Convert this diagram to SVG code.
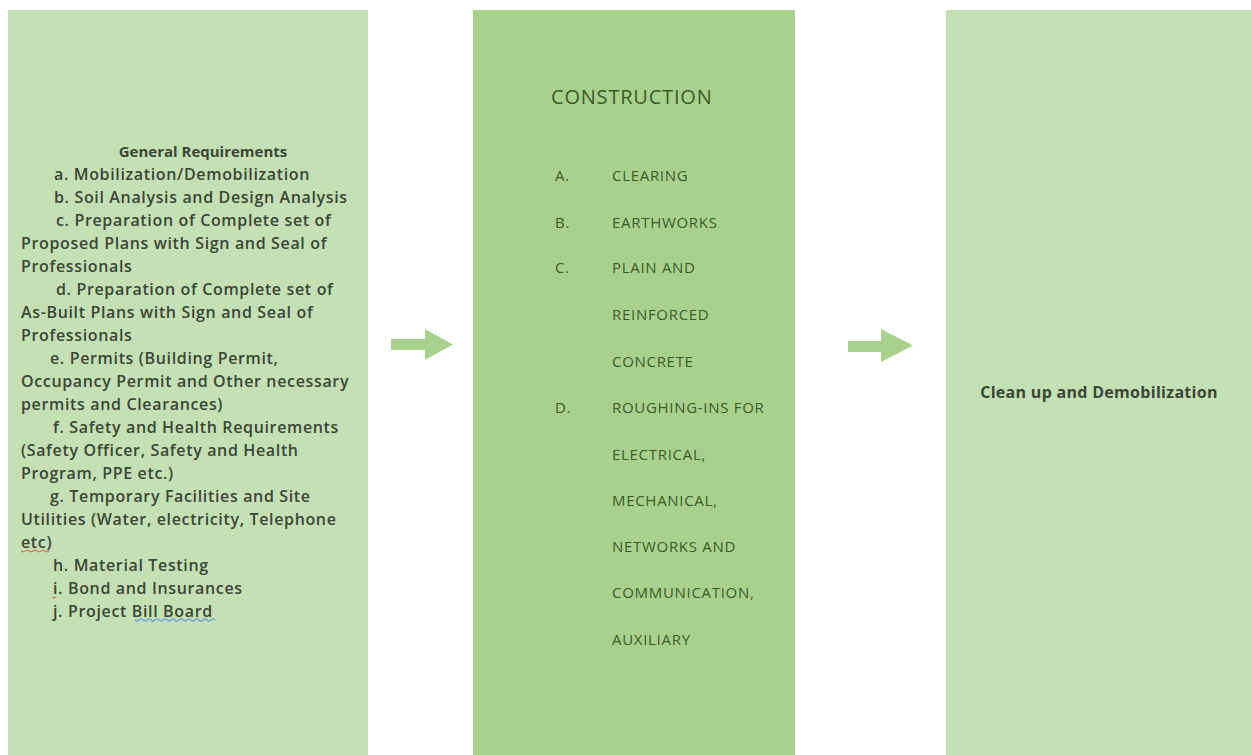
<svg xmlns="http://www.w3.org/2000/svg" width="1251" height="755" viewBox="0 0 1251 755">
<style>
.light{fill:#c5e0b4}
.mid{fill:#a9d18e}
.lt{font-family:"Open Sans","Liberation Sans",sans-serif;font-size:16px;font-weight:600;letter-spacing:0.65px;fill:#3a4636}
.hd{font-family:"Open Sans","Liberation Sans",sans-serif;font-size:15px;font-weight:700;fill:#3a4636}
.hr{font-family:"Open Sans","Liberation Sans",sans-serif;font-size:16px;font-weight:700;letter-spacing:0.3px;fill:#3a4636}
.ct{font-family:"Open Sans","Liberation Sans",sans-serif;font-weight:400;fill:#3b5a2a}
.ci{font-size:15px;letter-spacing:0.7px}
.arrow{fill:#a9d18e}
</style>
<rect width="1251" height="755" fill="#ffffff"/>
<g id="node-general">
<rect class="light" x="8" y="10" width="360" height="745"/>
<text class="hd" x="203" y="157" text-anchor="middle">General Requirements</text>
<text class="lt" x="54" y="180">a. Mobilization/Demobilization</text>
<text class="lt" x="54" y="203">b. Soil Analysis and Design Analysis</text>
<text class="lt" x="56" y="226">c. Preparation of Complete set of</text>
<text class="lt" x="21" y="249">Proposed Plans with Sign and  Seal of</text>
<text class="lt" x="21" y="272">Professionals</text>
<text class="lt" x="56" y="295">d. Preparation of Complete set of</text>
<text class="lt" x="21" y="318">As-Built Plans with Sign and  Seal of</text>
<text class="lt" x="21" y="341">Professionals</text>
<text class="lt" x="50" y="364">e. Permits (Building Permit,</text>
<text class="lt" x="21" y="387">Occupancy Permit and Other necessary</text>
<text class="lt" x="21" y="410">permits and Clearances)</text>
<text class="lt" x="53" y="433">f. Safety and Health Requirements</text>
<text class="lt" x="21" y="456">(Safety Officer, Safety and Health</text>
<text class="lt" x="21" y="479">Program, PPE etc.)</text>
<text class="lt" x="50" y="502">g. Temporary Facilities and Site</text>
<text class="lt" x="21" y="525">Utilities (Water, electricity, Telephone</text>
<text class="lt" x="21" y="548">etc)</text>
<text class="lt" x="53" y="571">h. Material Testing</text>
<text class="lt" x="53" y="594">i. Bond and  Insurances</text>
<text class="lt" x="53" y="617">j. Project Bill Board</text>
<path d="M21 551 q2 2 4 0 q2 -2 4 0 q2 2 4 0 q2 -2 4 0 q2 2 4 0 q2 -2 4 0 q2 2 4 0" fill="none" stroke="#d9534f" stroke-width="1"/>
<path d="M52 597 q2 2 4 0" fill="none" stroke="#d9534f" stroke-width="1"/>
<path d="M135 620 q2 2 4 0 q2 -2 4 0 q2 2 4 0 q2 -2 4 0 q2 2 4 0 q2 -2 4 0 q2 2 4 0 q2 -2 4 0 q2 2 4 0 q2 -2 4 0 q2 2 4 0 q2 -2 4 0 q2 2 4 0 q2 -2 4 0 q2 2 4 0 q2 -2 4 0 q2 2 4 0 q2 -2 4 0 q2 2 4 0 q2 -2 4 0" fill="none" stroke="#6f9fd8" stroke-width="1.2"/>
</g>
<g id="node-construction">
<rect class="mid" x="473" y="10" width="322" height="745"/>
<text class="ct" x="551" y="104" font-size="20" letter-spacing="0.8">CONSTRUCTION</text>
<g class="ct ci">
<text x="555" y="181">A.</text><text x="612" y="181">CLEARING</text>
<text x="555" y="228">B.</text><text x="612" y="228">EARTHWORKS</text>
<text x="555" y="273">C.</text><text x="612" y="273">PLAIN AND</text>
<text x="612" y="320">REINFORCED</text>
<text x="612" y="367">CONCRETE</text>
<text x="555" y="413">D.</text><text x="612" y="413">ROUGHING-INS FOR</text>
<text x="612" y="460">ELECTRICAL,</text>
<text x="612" y="506">MECHANICAL,</text>
<text x="612" y="552">NETWORKS AND</text>
<text x="612" y="598">COMMUNICATION,</text>
<text x="612" y="645">AUXILIARY</text>
</g>
</g>
<g id="node-cleanup">
<rect class="light" x="946" y="10" width="305" height="745"/>
<text class="hr" x="1099" y="398" text-anchor="middle">Clean up and Demobilization</text>
</g>
<g id="connectors">
<polygon class="arrow" points="391,339 425,339 425,329 453,344.5 425,360 425,350 391,350"/>
<polygon class="arrow" points="848,341 881,341 881,329 913,345.5 881,362 881,352 848,352"/>
</g>
</svg>
